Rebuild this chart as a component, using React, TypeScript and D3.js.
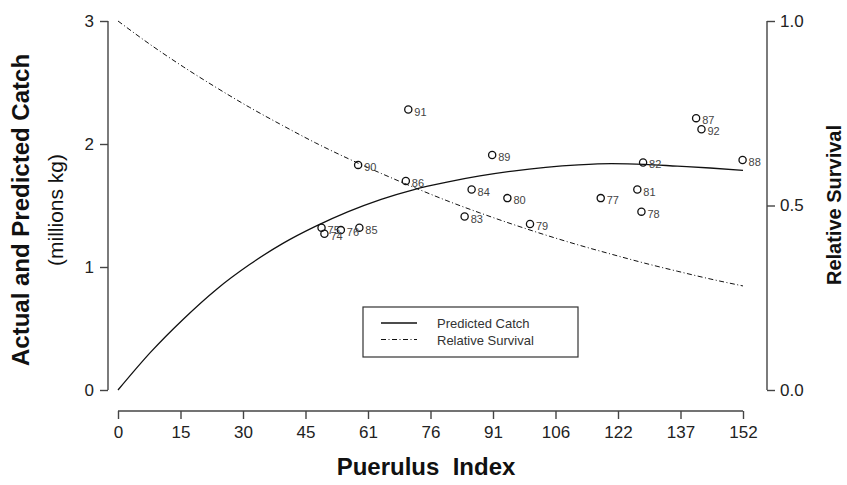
import React, { useEffect, useRef } from 'react';
import * as d3 from 'd3';

// season labels (19xx) and observed values
const seasons = ['74', '75', '76', '77', '78', '79', '80', '81', '82', '83', '84', '85', '86', '87', '88', '89', '90', '91', '92'];
const puerulusIndex = [50.2, 49.5, 54.2, 117.4, 127.3, 100.2, 94.7, 126.3, 127.7, 84.3, 86.0, 58.7, 70.0, 140.6, 151.9, 91.0, 58.4, 70.6, 141.9];
const actualCatch = [1.27, 1.32, 1.30, 1.56, 1.45, 1.35, 1.56, 1.63, 1.85, 1.41, 1.63, 1.32, 1.70, 2.21, 1.87, 1.91, 1.83, 2.28, 2.12];

// fitted curves
const curveX = [0, 8, 16, 24, 32, 40, 48, 56, 64, 72, 80, 88, 96, 104, 112, 120, 128, 136, 144, 152];
const predictedCatch = [0, 0.31, 0.58, 0.82, 1.02, 1.19, 1.33, 1.45, 1.55, 1.63, 1.69, 1.74, 1.78, 1.81, 1.83, 1.84, 1.835, 1.82, 1.805, 1.785];
const relativeSurvival = [1.0, 0.935, 0.875, 0.819, 0.766, 0.717, 0.670, 0.627, 0.587, 0.549, 0.513, 0.480, 0.449, 0.420, 0.393, 0.368, 0.344, 0.322, 0.301, 0.282];

// axis ticks
const xTickValues = [0, 15.2, 30.4, 45.6, 60.8, 76, 91.2, 106.4, 121.6, 136.8, 152];
const xTickLabels = ['0', '15', '30', '45', '61', '76', '91', '106', '122', '137', '152'];
const yLeftTicks = [0, 1, 2, 3];
const yRightTicks = [0, 0.5, 1.0];

const legendItems = ['Predicted Catch', 'Relative Survival'];

const FONT = '"Liberation Sans Narrow", "Liberation Sans", Arial, sans-serif';
const AXIS_COLOR = '#444';

const App = () => {
    const svgRef = useRef<SVGSVGElement | null>(null);

    useEffect(() => {
        const svg = d3.select(svgRef.current);
        svg.selectAll('*').remove();

        const width = 847;
        const height = 485;
        const plot = { left: 118, right: 743, top: 21, bottom: 390 };

        svg.attr('width', width).attr('height', height);
        svg.append('rect').attr('width', width).attr('height', height).attr('fill', 'white');

        // Scales
        const x = d3.scaleLinear().domain([0, 152]).range([plot.left, plot.right]);
        const yLeft = d3.scaleLinear().domain([0, 3]).range([plot.bottom, plot.top]);
        const yRight = d3.scaleLinear().domain([0, 1]).range([plot.bottom, plot.top]);

        // Left axis (detached, R style)
        const leftAxis = svg.append('g')
            .attr('transform', 'translate(108,0)')
            .call(d3.axisLeft(yLeft).tickValues(yLeftTicks).tickFormat(d3.format('d')).tickSize(8).tickPadding(6));
        leftAxis.select('.domain').attr('d', `M0,${plot.top}V${plot.bottom}`);

        // Bottom axis
        const bottomAxis = svg.append('g')
            .attr('transform', 'translate(0,411)')
            .call(d3.axisBottom(x).tickValues(xTickValues).tickFormat((d, i) => xTickLabels[i]).tickSize(8).tickPadding(7));
        bottomAxis.select('.domain').attr('d', `M${plot.left},0H${plot.right}`);

        // Right axis
        const rightAxis = svg.append('g')
            .attr('transform', 'translate(767,0)')
            .call(d3.axisRight(yRight).tickValues(yRightTicks).tickFormat(d3.format('.1f')).tickSize(8).tickPadding(5));
        rightAxis.select('.domain').attr('d', `M0,${plot.top}V${plot.bottom}`);

        [leftAxis, bottomAxis, rightAxis].forEach(g => {
            g.selectAll('.domain, line').attr('stroke', AXIS_COLOR).attr('stroke-width', 1.4);
            g.selectAll('text')
                .style('font-family', FONT)
                .style('font-size', '17px')
                .attr('fill', '#222');
        });

        // Predicted catch curve
        const catchLine = d3.line<number>()
            .x((d, i) => x(curveX[i]))
            .y(d => yLeft(d))
            .curve(d3.curveMonotoneX);

        svg.append('path')
            .datum(predictedCatch)
            .attr('d', catchLine)
            .attr('fill', 'none')
            .attr('stroke', '#111')
            .attr('stroke-width', 1.3);

        // Relative survival curve
        const survivalLine = d3.line<number>()
            .x((d, i) => x(curveX[i]))
            .y(d => yRight(d))
            .curve(d3.curveMonotoneX);

        svg.append('path')
            .datum(relativeSurvival)
            .attr('d', survivalLine)
            .attr('fill', 'none')
            .attr('stroke', '#111')
            .attr('stroke-width', 1)
            .attr('stroke-dasharray', '5,2.5,1,2.5');

        // Observed points
        const points = seasons.map((s, i) => ({ season: s, px: puerulusIndex[i], c: actualCatch[i] }));

        svg.selectAll('.obs')
            .data(points)
            .enter()
            .append('circle')
            .attr('class', 'obs')
            .attr('cx', d => x(d.px))
            .attr('cy', d => yLeft(d.c))
            .attr('r', 3.6)
            .attr('fill', 'none')
            .attr('stroke', '#111')
            .attr('stroke-width', 1.3);

        svg.selectAll('.obs-label')
            .data(points)
            .enter()
            .append('text')
            .attr('class', 'obs-label')
            .attr('x', d => x(d.px) + 6)
            .attr('y', d => yLeft(d.c) + 6)
            .text(d => d.season)
            .style('font-family', '"Liberation Sans", Arial, sans-serif')
            .style('font-size', '11px')
            .attr('fill', '#444');

        // Legend
        const legend = svg.append('g').attr('transform', 'translate(363,307)');
        legend.append('rect')
            .attr('width', 215)
            .attr('height', 50)
            .attr('fill', 'white')
            .attr('stroke', '#333')
            .attr('stroke-width', 1.2);

        legendItems.forEach((label, i) => {
            const ly = 16 + i * 16.5;
            legend.append('line')
                .attr('x1', 18)
                .attr('x2', 54)
                .attr('y1', ly)
                .attr('y2', ly)
                .attr('stroke', '#111')
                .attr('stroke-width', i === 0 ? 1.3 : 1)
                .attr('stroke-dasharray', i === 0 ? null : '5,2.5,1,2.5');
            legend.append('text')
                .attr('x', 74)
                .attr('y', ly + 5)
                .text(label)
                .style('font-family', '"Liberation Sans", Arial, sans-serif')
                .style('font-size', '13px')
                .attr('fill', '#333');
        });

        // Axis titles
        svg.append('text')
            .attr('x', 426)
            .attr('y', 475)
            .attr('text-anchor', 'middle')
            .text('Puerulus  Index')
            .style('font-family', FONT)
            .style('font-weight', 'bold')
            .style('font-size', '24px')
            .style('white-space', 'pre')
            .attr('fill', '#111');

        svg.append('text')
            .attr('transform', 'translate(29,210) rotate(-90)')
            .attr('text-anchor', 'middle')
            .text('Actual and Predicted Catch')
            .style('font-family', FONT)
            .style('font-weight', 'bold')
            .style('font-size', '24px')
            .attr('fill', '#111');

        svg.append('text')
            .attr('transform', 'translate(63,210) rotate(-90)')
            .attr('text-anchor', 'middle')
            .text('(millions kg)')
            .style('font-family', FONT)
            .style('font-size', '21px')
            .attr('fill', '#111');

        svg.append('text')
            .attr('transform', 'translate(841,205) rotate(-90)')
            .attr('text-anchor', 'middle')
            .text('Relative Survival')
            .style('font-family', FONT)
            .style('font-weight', 'bold')
            .style('font-size', '20px')
            .attr('fill', '#111');
    }, []);

    return (
        <svg ref={svgRef} style={{ position: 'absolute', left: 0, top: 0 }}></svg>
    );
};

export default App;
